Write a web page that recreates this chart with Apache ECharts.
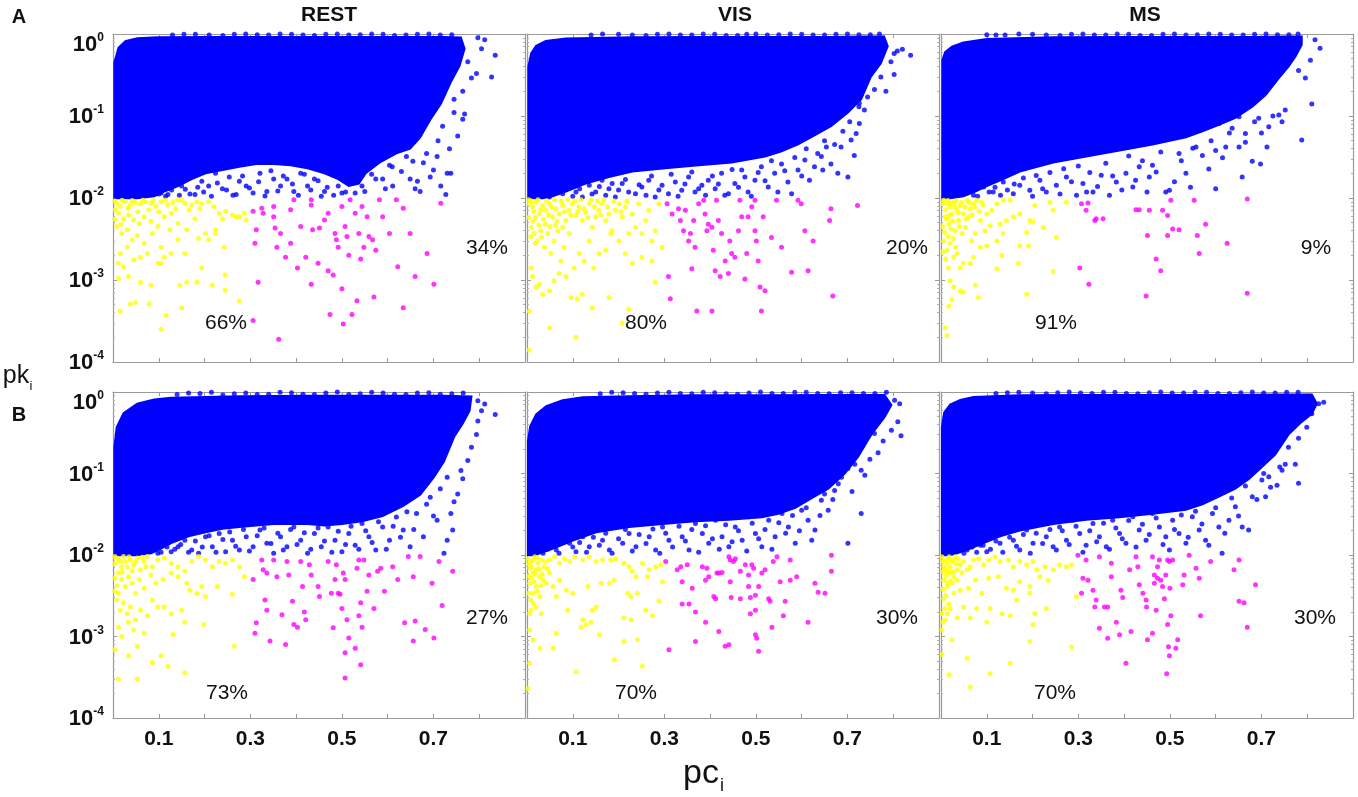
<!DOCTYPE html>
<html>
<head>
<meta charset="utf-8">
<title>pk-pc scatter</title>
<script src="https://cdn.jsdelivr.net/npm/echarts@6/dist/echarts.min.js"></script>
<style>
  html, body { margin: 0; padding: 0; background: #fff; }
  #main { width: 1358px; height: 797px; }
</style>
</head>
<body>
<div id="main"></div>
<script>
// panel names and the percentages written in each panel
var columnTitles = ['REST', 'VIS', 'MS']
var rowLetters = ['A', 'B']
var pctLow = ['66%', '80%', '91%', '73%', '70%', '70%']
var pctHigh = ['34%', '20%', '9%', '27%', '30%', '30%']
var xTickLabels = ['0.1', '0.3', '0.5', '0.7']

// dense blue cloud outline, [pc, pk]
var restA_area = [[0.003,0.0099],[0.003,0.45],[0.012,0.68],[0.027,0.82],[0.053,0.89],[0.098,0.91],[0.202,0.92],[0.351,0.92],[0.5,0.92],[0.649,0.92],[0.723,0.92],[0.76,0.91],[0.768,0.66],[0.757,0.41],[0.738,0.26],[0.716,0.14],[0.693,0.09],[0.671,0.055],[0.649,0.04],[0.619,0.035],[0.582,0.027],[0.552,0.02],[0.537,0.015],[0.515,0.014],[0.492,0.017],[0.462,0.02],[0.425,0.023],[0.388,0.025],[0.351,0.026],[0.313,0.026],[0.276,0.024],[0.239,0.022],[0.202,0.02],[0.172,0.017],[0.142,0.014],[0.112,0.012],[0.09,0.0105],[0.053,0.0099]]
var visA_area = [[0.003,0.0099],[0.003,0.4],[0.009,0.58],[0.02,0.72],[0.041,0.82],[0.085,0.88],[0.23,0.91],[0.375,0.92],[0.52,0.92],[0.664,0.92],[0.737,0.93],[0.78,0.93],[0.788,0.71],[0.773,0.44],[0.751,0.3],[0.73,0.16],[0.701,0.11],[0.664,0.075],[0.628,0.058],[0.592,0.045],[0.556,0.037],[0.52,0.032],[0.447,0.027],[0.375,0.025],[0.302,0.023],[0.23,0.021],[0.179,0.018],[0.128,0.015],[0.085,0.012],[0.056,0.0105],[0.034,0.0099]]
var msA_area = [[0.003,0.0099],[0.003,0.48],[0.009,0.6],[0.024,0.7],[0.049,0.79],[0.1,0.87],[0.245,0.91],[0.39,0.92],[0.535,0.92],[0.68,0.92],[0.752,0.93],[0.788,0.93],[0.788,0.74],[0.774,0.53],[0.759,0.4],[0.738,0.29],[0.709,0.18],[0.68,0.13],[0.643,0.095],[0.607,0.078],[0.571,0.065],[0.535,0.055],[0.462,0.045],[0.39,0.038],[0.317,0.032],[0.245,0.027],[0.172,0.021],[0.136,0.017],[0.1,0.014],[0.075,0.012],[0.049,0.0105],[0.02,0.0099]]
var restB_area = [[0.003,0.0099],[0.003,0.21],[0.008,0.37],[0.023,0.55],[0.053,0.72],[0.09,0.81],[0.127,0.85],[0.276,0.89],[0.425,0.9],[0.574,0.9],[0.723,0.9],[0.783,0.88],[0.779,0.59],[0.764,0.41],[0.745,0.28],[0.723,0.14],[0.701,0.09],[0.671,0.055],[0.634,0.04],[0.589,0.03],[0.544,0.026],[0.5,0.024],[0.462,0.023],[0.425,0.024],[0.388,0.024],[0.351,0.024],[0.313,0.023],[0.276,0.022],[0.239,0.021],[0.202,0.019],[0.165,0.017],[0.127,0.014],[0.105,0.012],[0.083,0.0105],[0.053,0.0099]]
var visB_area = [[0.002,0.0099],[0.002,0.25],[0.007,0.38],[0.02,0.53],[0.042,0.67],[0.078,0.79],[0.122,0.86],[0.223,0.89],[0.368,0.91],[0.513,0.91],[0.658,0.92],[0.781,0.92],[0.796,0.69],[0.781,0.49],[0.752,0.3],[0.723,0.16],[0.694,0.1],[0.658,0.065],[0.622,0.05],[0.586,0.038],[0.549,0.032],[0.513,0.029],[0.441,0.027],[0.368,0.026],[0.296,0.024],[0.223,0.022],[0.151,0.019],[0.1,0.015],[0.057,0.012],[0.028,0.0105],[0.017,0.0099]]
var msB_area = [[0.002,0.0099],[0.002,0.37],[0.007,0.56],[0.02,0.7],[0.042,0.8],[0.071,0.87],[0.172,0.91],[0.317,0.92],[0.462,0.92],[0.607,0.92],[0.752,0.93],[0.81,0.93],[0.821,0.72],[0.81,0.54],[0.788,0.43],[0.759,0.3],[0.73,0.17],[0.701,0.12],[0.672,0.085],[0.643,0.065],[0.607,0.052],[0.571,0.042],[0.535,0.036],[0.462,0.032],[0.39,0.029],[0.317,0.027],[0.245,0.024],[0.172,0.02],[0.129,0.017],[0.093,0.014],[0.064,0.012],[0.035,0.0105],[0.02,0.0099]]

// loose blue points (lower fringe, right tail, top spikes), [pc, pk]
var restA_blue = [[0.797,0.9],[0.812,0.85],[0.805,0.66],[0.835,0.55],[0.827,0.3],[0.794,0.33],[0.775,0.46],[0.783,0.29],[0.764,0.2],[0.768,0.106],[0.764,0.091],[0.745,0.16],[0.753,0.057],[0.738,0.02],[0.73,0.02],[0.727,0.011],[0.716,0.014],[0.708,0.032],[0.693,0.018],[0.678,0.027],[0.671,0.012],[0.66,0.013],[0.649,0.017],[0.641,0.032],[0.626,0.039],[0.611,0.014],[0.604,0.025],[0.589,0.017],[0.574,0.017],[0.559,0.025],[0.544,0.014],[0.529,0.0115],[0.522,0.02],[0.5,0.0115],[0.492,0.014],[0.477,0.02],[0.462,0.012],[0.455,0.0105],[0.44,0.017],[0.425,0.014],[0.41,0.02],[0.395,0.012],[0.38,0.017],[0.366,0.014],[0.351,0.017],[0.336,0.012],[0.321,0.02],[0.306,0.0115],[0.291,0.014],[0.276,0.016],[0.269,0.011],[0.254,0.018],[0.239,0.013],[0.224,0.02],[0.209,0.014],[0.194,0.016],[0.179,0.011],[0.165,0.02],[0.15,0.014],[0.135,0.017],[0.12,0.011],[0.105,0.0115],[0.13,0.97],[0.155,0.99],[0.18,0.99],[0.21,0.97],[0.24,0.96],[0.265,0.99],[0.29,1.0],[0.315,0.98],[0.34,0.97],[0.365,1.0],[0.39,0.99],[0.415,0.97],[0.44,0.96],[0.465,0.99],[0.49,1.0],[0.515,0.97],[0.54,0.98],[0.565,1.0],[0.59,0.99],[0.615,0.96],[0.64,0.97],[0.665,0.99],[0.69,1.0],[0.715,0.97],[0.74,0.98]]
var visA_blue = [[0.02,0.0108],[0.034,0.0124],[0.049,0.0103],[0.063,0.0136],[0.078,0.0113],[0.092,0.0157],[0.107,0.0118],[0.121,0.0103],[0.136,0.0143],[0.15,0.0118],[0.164,0.0165],[0.179,0.013],[0.193,0.0103],[0.208,0.015],[0.222,0.0118],[0.237,0.0113],[0.251,0.0136],[0.266,0.0165],[0.28,0.0103],[0.295,0.0143],[0.309,0.0113],[0.324,0.0157],[0.338,0.0124],[0.353,0.018],[0.367,0.0118],[0.382,0.0143],[0.396,0.0165],[0.411,0.013],[0.425,0.02],[0.44,0.0113],[0.454,0.015],[0.469,0.022],[0.483,0.0118],[0.498,0.0165],[0.512,0.024],[0.527,0.0136],[0.541,0.02],[0.556,0.026],[0.57,0.0157],[0.578,0.0113],[0.592,0.022],[0.607,0.029],[0.617,0.0165],[0.628,0.024],[0.643,0.032],[0.646,0.022],[0.654,0.042],[0.664,0.026],[0.679,0.02],[0.686,0.042],[0.701,0.018],[0.708,0.051],[0.715,0.033],[0.719,0.061],[0.726,0.081],[0.737,0.118],[0.726,0.143],[0.744,0.17],[0.759,0.21],[0.784,0.2],[0.773,0.3],[0.802,0.32],[0.795,0.46],[0.809,0.62],[0.82,0.65],[0.838,0.55],[0.802,0.58],[0.14,0.97],[0.165,1.0],[0.2,0.99],[0.23,0.97],[0.26,0.96],[0.285,0.99],[0.31,1.0],[0.335,0.97],[0.36,0.97],[0.385,1.0],[0.41,0.99],[0.435,0.96],[0.46,0.96],[0.48,0.99],[0.5,1.0],[0.525,0.97],[0.55,0.98],[0.575,1.0],[0.6,0.99],[0.625,0.97],[0.65,0.97],[0.675,0.99],[0.7,1.0],[0.725,0.98],[0.75,0.98],[0.77,1.0]]
var msA_blue = [[0.028,0.0108],[0.049,0.0124],[0.071,0.0108],[0.093,0.0136],[0.114,0.0118],[0.136,0.0157],[0.158,0.0113],[0.172,0.0143],[0.194,0.0124],[0.216,0.0165],[0.23,0.0118],[0.252,0.0143],[0.274,0.018],[0.296,0.0108],[0.31,0.015],[0.332,0.0118],[0.35,0.019],[0.368,0.0108],[0.383,0.0157],[0.404,0.02],[0.419,0.0136],[0.433,0.024],[0.455,0.018],[0.462,0.025],[0.491,0.0118],[0.499,0.0124],[0.52,0.035],[0.535,0.02],[0.557,0.042],[0.571,0.033],[0.6,0.013],[0.6,0.038],[0.622,0.042],[0.651,0.042],[0.658,0.018],[0.68,0.028],[0.698,0.026],[0.712,0.042],[0.788,0.051],[0.81,0.14],[0.828,0.67],[0.817,0.85],[0.807,0.48],[0.781,0.36],[0.796,0.29],[0.752,0.118],[0.738,0.103],[0.716,0.074],[0.694,0.094],[0.651,0.098],[0.607,0.081],[0.636,0.071],[0.665,0.061],[0.1,0.98],[0.12,0.97],[0.14,0.97],[0.17,1.0],[0.2,0.99],[0.23,0.97],[0.26,0.96],[0.285,0.99],[0.31,1.0],[0.335,0.97],[0.36,0.97],[0.385,1.0],[0.41,0.99],[0.435,0.96],[0.46,0.96],[0.485,0.99],[0.51,1.0],[0.535,0.97],[0.56,0.98],[0.585,1.0],[0.61,0.99],[0.635,0.97],[0.66,0.97],[0.685,0.99],[0.71,1.0],[0.735,0.98],[0.76,0.98],[0.78,1.0]]
var restB_blue = [[0.016,0.0105],[0.031,0.0126],[0.045,0.011],[0.06,0.0139],[0.075,0.012],[0.098,0.0105],[0.112,0.0132],[0.127,0.011],[0.142,0.0126],[0.157,0.0152],[0.172,0.0115],[0.187,0.0105],[0.202,0.0167],[0.217,0.0126],[0.232,0.0184],[0.246,0.011],[0.261,0.0152],[0.276,0.0115],[0.291,0.0167],[0.306,0.0126],[0.321,0.0202],[0.336,0.0139],[0.351,0.0105],[0.366,0.0167],[0.38,0.0126],[0.395,0.0221],[0.41,0.0152],[0.425,0.0105],[0.44,0.0184],[0.455,0.0126],[0.47,0.0221],[0.485,0.0152],[0.5,0.011],[0.515,0.0184],[0.529,0.0132],[0.544,0.0243],[0.559,0.0167],[0.574,0.0115],[0.589,0.0221],[0.604,0.0152],[0.619,0.0293],[0.634,0.0202],[0.649,0.0126],[0.663,0.0322],[0.678,0.0167],[0.693,0.051],[0.708,0.0267],[0.723,0.0105],[0.73,0.0152],[0.742,0.0202],[0.738,0.0322],[0.753,0.056],[0.76,0.109],[0.764,0.0861],[0.775,0.144],[0.783,0.21],[0.794,0.3],[0.797,0.44],[0.805,0.59],[0.812,0.71],[0.835,0.53],[0.797,0.78],[0.14,0.93],[0.165,0.97],[0.19,0.96],[0.215,0.99],[0.24,0.92],[0.265,0.95],[0.29,0.97],[0.315,0.93],[0.34,0.94],[0.365,0.99],[0.39,0.98],[0.415,0.94],[0.44,0.93],[0.465,0.97],[0.49,1.0],[0.515,0.93],[0.54,0.95],[0.565,0.99],[0.59,0.97],[0.615,0.94],[0.64,0.93],[0.665,0.97],[0.69,0.98],[0.715,0.94],[0.74,0.95],[0.765,0.97]]
var visB_blue = [[0.013,0.011],[0.035,0.0126],[0.049,0.0152],[0.064,0.0115],[0.078,0.0184],[0.093,0.0139],[0.107,0.011],[0.122,0.0167],[0.136,0.0126],[0.151,0.0202],[0.165,0.0152],[0.18,0.0115],[0.194,0.0221],[0.209,0.0139],[0.223,0.0184],[0.238,0.0126],[0.252,0.0243],[0.267,0.0167],[0.281,0.0115],[0.296,0.0221],[0.31,0.0152],[0.325,0.0267],[0.339,0.0167],[0.354,0.0115],[0.368,0.0243],[0.383,0.0184],[0.397,0.0139],[0.412,0.0267],[0.426,0.0167],[0.441,0.0126],[0.455,0.0221],[0.47,0.0152],[0.484,0.0294],[0.499,0.0184],[0.513,0.0126],[0.528,0.0267],[0.542,0.0167],[0.557,0.0323],[0.571,0.0221],[0.586,0.0139],[0.6,0.0355],[0.614,0.0267],[0.629,0.0202],[0.643,0.047],[0.658,0.0355],[0.672,0.062],[0.687,0.09],[0.701,0.115],[0.716,0.13],[0.73,0.11],[0.738,0.095],[0.73,0.0323],[0.701,0.0139],[0.749,0.15],[0.767,0.18],[0.778,0.25],[0.796,0.34],[0.81,0.43],[0.817,0.29],[0.803,0.79],[0.814,0.72],[0.759,0.31],[0.622,0.0152],[0.16,0.95],[0.185,0.99],[0.21,0.98],[0.235,0.96],[0.26,0.94],[0.285,0.97],[0.31,0.99],[0.335,0.96],[0.36,0.95],[0.385,0.99],[0.41,0.98],[0.435,0.95],[0.46,0.94],[0.485,0.97],[0.51,1.0],[0.535,0.96],[0.56,0.96],[0.585,0.99],[0.61,0.99],[0.635,0.96],[0.66,0.95],[0.685,0.98],[0.71,0.98],[0.735,0.96],[0.76,0.96],[0.785,0.99]]
var msB_blue = [[0.013,0.011],[0.028,0.0126],[0.042,0.0152],[0.057,0.0115],[0.071,0.0167],[0.086,0.0132],[0.1,0.011],[0.114,0.0184],[0.129,0.0139],[0.143,0.0221],[0.158,0.0152],[0.172,0.0115],[0.187,0.0202],[0.201,0.0139],[0.216,0.0243],[0.23,0.0167],[0.245,0.0126],[0.259,0.0221],[0.274,0.0152],[0.288,0.0267],[0.303,0.0184],[0.317,0.0132],[0.332,0.0243],[0.346,0.0167],[0.361,0.0126],[0.375,0.0267],[0.39,0.0184],[0.404,0.0139],[0.419,0.0294],[0.433,0.0202],[0.448,0.0152],[0.462,0.0323],[0.477,0.0221],[0.491,0.0167],[0.499,0.0115],[0.506,0.0267],[0.52,0.0184],[0.535,0.0139],[0.549,0.0294],[0.564,0.0202],[0.578,0.0152],[0.593,0.0323],[0.607,0.0221],[0.614,0.0105],[0.629,0.0267],[0.643,0.039],[0.658,0.0221],[0.672,0.0202],[0.68,0.052],[0.701,0.083],[0.716,0.091],[0.734,0.072],[0.745,0.11],[0.752,0.13],[0.781,0.076],[0.759,0.21],[0.781,0.27],[0.799,0.37],[0.81,0.54],[0.825,0.72],[0.836,0.75],[0.774,0.13],[0.803,0.66],[0.709,0.052],[0.12,0.96],[0.145,0.98],[0.17,0.99],[0.2,0.97],[0.23,0.95],[0.255,0.98],[0.28,1.0],[0.305,0.97],[0.33,0.96],[0.355,0.99],[0.38,0.99],[0.405,0.96],[0.43,0.95],[0.455,0.98],[0.48,1.0],[0.505,0.97],[0.53,0.97],[0.555,0.99],[0.58,0.99],[0.605,0.96],[0.63,0.96],[0.655,0.98],[0.68,1.0],[0.705,0.97],[0.73,0.97],[0.755,0.99],[0.78,0.99]]

// extra blue points in the speckled band just above pk = 0.01
var restA_band = [[0.1,0.0112],[0.115,0.0105],[0.128,0.0125],[0.145,0.0108],[0.158,0.0128],[0.168,0.0112],[0.185,0.0135],[0.198,0.0118],[0.215,0.0105],[0.228,0.0152],[0.248,0.0125],[0.262,0.0108],[0.283,0.0185],[0.298,0.0132],[0.318,0.0158],[0.332,0.0106],[0.345,0.0215],[0.36,0.0122],[0.372,0.0185],[0.392,0.0148],[0.405,0.0108],[0.418,0.0195],[0.432,0.0125],[0.448,0.0162],[0.468,0.0135],[0.482,0.0108],[0.508,0.0118],[0.55,0.012],[0.565,0.0195],[0.595,0.013],[0.61,0.024],[0.63,0.021],[0.655,0.028],[0.665,0.016],[0.685,0.035],[0.7,0.022],[0.71,0.05],[0.72,0.075],[0.735,0.04],[0.745,0.11]]
var visA_band = [[0.1,0.0105],[0.115,0.013],[0.142,0.0112],[0.158,0.0138],[0.172,0.0108],[0.186,0.015],[0.2,0.0125],[0.215,0.0168],[0.245,0.0145],[0.26,0.0108],[0.272,0.0185],[0.288,0.0125],[0.315,0.0195],[0.33,0.0105],[0.345,0.0148],[0.36,0.0208],[0.375,0.013],[0.39,0.0108],[0.405,0.0185],[0.418,0.0148],[0.432,0.0108],[0.448,0.0222],[0.462,0.0135],[0.476,0.018],[0.49,0.0105],[0.505,0.0205],[0.52,0.0162],[0.534,0.0285],[0.548,0.0118],[0.563,0.0215],[0.585,0.0312],[0.6,0.0185],[0.61,0.04],[0.635,0.035],[0.65,0.05],[0.672,0.045],[0.69,0.065],[0.705,0.085],[0.725,0.13]]
var msA_band = [[0.08,0.0105],[0.105,0.0118],[0.118,0.0135],[0.13,0.0108],[0.145,0.0125],[0.16,0.0148],[0.18,0.0175],[0.2,0.0105],[0.208,0.0188],[0.222,0.013],[0.238,0.0205],[0.26,0.0112],[0.268,0.0228],[0.285,0.0158],[0.3,0.0245],[0.318,0.0118],[0.325,0.0205],[0.342,0.0138],[0.36,0.0265],[0.375,0.0185],[0.395,0.0125],[0.41,0.0325],[0.425,0.0165],[0.44,0.0285],[0.45,0.0118],[0.47,0.0208],[0.48,0.0365],[0.51,0.0158],[0.525,0.0285],[0.545,0.0135],[0.55,0.0405],[0.585,0.0225],[0.59,0.05],[0.615,0.031],[0.63,0.062],[0.665,0.048],[0.685,0.085],[0.7,0.062],[0.725,0.1],[0.745,0.085]]
var restB_band = [[0.085,0.0112],[0.105,0.0108],[0.118,0.0125],[0.135,0.0118],[0.148,0.0135],[0.165,0.0108],[0.18,0.0148],[0.195,0.0125],[0.21,0.0172],[0.225,0.0108],[0.24,0.0155],[0.255,0.0192],[0.268,0.0128],[0.285,0.0205],[0.298,0.0112],[0.315,0.0172],[0.33,0.0215],[0.345,0.0138],[0.36,0.0185],[0.372,0.0115],[0.388,0.0205],[0.402,0.0135],[0.418,0.0188],[0.432,0.0118],[0.448,0.0215],[0.462,0.0148],[0.478,0.0108],[0.492,0.0195],[0.508,0.0135],[0.52,0.0225],[0.537,0.0118],[0.552,0.0198],[0.566,0.0142],[0.58,0.0255],[0.597,0.0118],[0.612,0.0225],[0.628,0.0165],[0.642,0.034],[0.657,0.0205],[0.685,0.042],[0.7,0.03],[0.715,0.065],[0.73,0.09],[0.745,0.045]]
var visB_band = [[0.035,0.0105],[0.045,0.0118],[0.06,0.0128],[0.07,0.0105],[0.085,0.0145],[0.1,0.0125],[0.115,0.0142],[0.13,0.0108],[0.145,0.0165],[0.158,0.0132],[0.172,0.0185],[0.186,0.0105],[0.2,0.0158],[0.215,0.0205],[0.23,0.0112],[0.245,0.0178],[0.26,0.0138],[0.275,0.0208],[0.29,0.0105],[0.303,0.0185],[0.318,0.0125],[0.332,0.0225],[0.346,0.0148],[0.36,0.0205],[0.375,0.0108],[0.39,0.0228],[0.405,0.0158],[0.42,0.0118],[0.434,0.0235],[0.448,0.0145],[0.462,0.0198],[0.48,0.0112],[0.492,0.0245],[0.506,0.0158],[0.52,0.0205],[0.535,0.0118],[0.55,0.0248],[0.565,0.0185],[0.58,0.0305],[0.595,0.0198],[0.61,0.038],[0.64,0.0305],[0.65,0.056],[0.668,0.048],[0.68,0.075],[0.71,0.06]]
var msB_band = [[0.035,0.0112],[0.05,0.0105],[0.068,0.0125],[0.078,0.0108],[0.092,0.0132],[0.108,0.0118],[0.12,0.0148],[0.135,0.0108],[0.15,0.0165],[0.165,0.0128],[0.18,0.0178],[0.195,0.0105],[0.208,0.0185],[0.222,0.0138],[0.238,0.0205],[0.252,0.0115],[0.265,0.0198],[0.28,0.0135],[0.295,0.0225],[0.31,0.0108],[0.325,0.0198],[0.34,0.0145],[0.355,0.0245],[0.368,0.0118],[0.382,0.0215],[0.396,0.0158],[0.41,0.0265],[0.426,0.0125],[0.44,0.0238],[0.455,0.0178],[0.47,0.0285],[0.485,0.0135],[0.51,0.0205],[0.525,0.031],[0.54,0.0165],[0.556,0.0345],[0.57,0.024],[0.585,0.0132],[0.6,0.038],[0.62,0.0185],[0.635,0.05],[0.65,0.03],[0.665,0.07],[0.69,0.048],[0.705,0.1],[0.72,0.068],[0.74,0.12]]

// yellow points (pk < 0.01, low pc), [pc, pk]
var restA_yellow = [[0.008,0.0086],[0.016,0.0079],[0.027,0.009],[0.038,0.0082],[0.049,0.0088],[0.06,0.0085],[0.071,0.009],[0.083,0.0086],[0.094,0.0079],[0.105,0.009],[0.12,0.0082],[0.131,0.0088],[0.142,0.0095],[0.157,0.0086],[0.172,0.0082],[0.183,0.009],[0.194,0.0085],[0.209,0.009],[0.22,0.0079],[0.232,0.0065],[0.246,0.0069],[0.261,0.0062],[0.276,0.0059],[0.291,0.0054],[0.012,0.0065],[0.023,0.0056],[0.034,0.0062],[0.045,0.0054],[0.057,0.0049],[0.068,0.0059],[0.083,0.0052],[0.098,0.0045],[0.112,0.0059],[0.127,0.0065],[0.142,0.0049],[0.161,0.0041],[0.179,0.0056],[0.202,0.0037],[0.224,0.0041],[0.239,0.0056],[0.269,0.0059],[0.287,0.0065],[0.008,0.0045],[0.019,0.0037],[0.031,0.0041],[0.042,0.0031],[0.053,0.0035],[0.068,0.0028],[0.086,0.0037],[0.105,0.0025],[0.124,0.0041],[0.142,0.0031],[0.016,0.0021],[0.031,0.0025],[0.045,0.00175],[0.06,0.0019],[0.075,0.0021],[0.098,0.0016],[0.112,0.0019],[0.127,0.0021],[0.157,0.0021],[0.187,0.0032],[0.209,0.0031],[0.224,0.0037],[0.243,0.0025],[0.012,0.0016],[0.023,0.00145],[0.034,0.0011],[0.06,0.00094],[0.083,0.00086],[0.105,0.0016],[0.146,0.00086],[0.161,0.00094],[0.183,0.00094],[0.194,0.0014],[0.217,0.00086],[0.245,0.00115],[0.245,0.00075],[0.276,0.00056],[0.012,0.00104],[0.016,0.00042],[0.038,0.00051],[0.049,0.00053],[0.079,0.00051],[0.105,0.00025],[0.116,0.00037],[0.15,0.00046],[0.004,0.0092],[0.005,0.0072],[0.02,0.0094],[0.033,0.0075],[0.042,0.0093],[0.054,0.0068],[0.065,0.0094],[0.078,0.0072],[0.088,0.0093],[0.1,0.0068],[0.115,0.0094],[0.137,0.0074],[0.15,0.0094],[0.166,0.0072],[0.19,0.0074],[0.004,0.0055],[0.018,0.0048]]
var visA_yellow = [[0.005,0.0085],[0.012,0.0078],[0.02,0.0089],[0.027,0.0064],[0.034,0.0081],[0.041,0.0071],[0.049,0.0085],[0.056,0.0059],[0.063,0.0074],[0.07,0.0064],[0.078,0.0081],[0.085,0.0053],[0.092,0.0071],[0.099,0.0085],[0.107,0.0061],[0.114,0.0078],[0.121,0.0053],[0.128,0.0067],[0.136,0.0085],[0.143,0.0044],[0.15,0.0059],[0.157,0.0071],[0.164,0.0085],[0.172,0.0053],[0.179,0.0064],[0.186,0.004],[0.193,0.0071],[0.201,0.0085],[0.208,0.0059],[0.215,0.0078],[0.222,0.0037],[0.23,0.0064],[0.237,0.0044],[0.244,0.0085],[0.251,0.0037],[0.259,0.0053],[0.266,0.0071],[0.273,0.003],[0.28,0.004],[0.288,0.0085],[0.295,0.0025],[0.009,0.0044],[0.016,0.0037],[0.023,0.003],[0.03,0.004],[0.038,0.0025],[0.045,0.0037],[0.052,0.0021],[0.059,0.003],[0.067,0.004],[0.074,0.0017],[0.081,0.0025],[0.092,0.0037],[0.103,0.0014],[0.114,0.0021],[0.125,0.0017],[0.136,0.003],[0.146,0.0014],[0.157,0.0021],[0.172,0.0023],[0.183,0.0037],[0.201,0.003],[0.215,0.0021],[0.23,0.0016],[0.251,0.0019],[0.273,0.0017],[0.28,0.00094],[0.009,0.0014],[0.012,0.0011],[0.02,0.00082],[0.027,0.00089],[0.034,0.00067],[0.049,0.00074],[0.059,0.00098],[0.07,0.0012],[0.085,0.0011],[0.096,0.00061],[0.11,0.00059],[0.121,0.00067],[0.143,0.00046],[0.179,0.00061],[0.222,0.00044],[0.208,0.0003],[0.005,0.00042],[0.049,0.00026],[0.107,0.0002],[0.005,0.00014],[0.004,0.0095],[0.01,0.0092],[0.015,0.0068],[0.018,0.0058],[0.024,0.0095],[0.03,0.0072],[0.036,0.0055],[0.043,0.0092],[0.047,0.0062],[0.053,0.0078],[0.06,0.0095],[0.066,0.0052],[0.075,0.0092],[0.082,0.0068],[0.089,0.0095],[0.096,0.0062],[0.104,0.0092],[0.111,0.0068],[0.118,0.0095],[0.125,0.0074],[0.133,0.0058],[0.14,0.0095],[0.147,0.0078],[0.154,0.0092],[0.161,0.0062],[0.168,0.0095],[0.176,0.0078],[0.19,0.0092],[0.205,0.0068],[0.218,0.0092],[0.004,0.0058],[0.008,0.0034],[0.013,0.0052],[0.018,0.0028],[0.026,0.0047],[0.032,0.0033],[0.04,0.0048],[0.05,0.0045],[0.062,0.0047],[0.078,0.0044]]
var msA_yellow = [[0.006,0.0094],[0.013,0.0085],[0.02,0.0078],[0.028,0.0089],[0.035,0.0071],[0.042,0.0081],[0.049,0.0064],[0.057,0.0094],[0.064,0.0074],[0.071,0.0085],[0.078,0.0094],[0.089,0.0089],[0.1,0.0064],[0.111,0.0071],[0.122,0.0085],[0.136,0.0094],[0.151,0.0094],[0.009,0.0059],[0.017,0.0048],[0.024,0.0064],[0.031,0.004],[0.038,0.0053],[0.046,0.0037],[0.053,0.0044],[0.06,0.0059],[0.067,0.003],[0.075,0.0037],[0.086,0.0053],[0.096,0.004],[0.107,0.0046],[0.129,0.0048],[0.143,0.0053],[0.158,0.0059],[0.172,0.0064],[0.194,0.0053],[0.205,0.0081],[0.238,0.0089],[0.245,0.0071],[0.274,0.0089],[0.006,0.003],[0.013,0.0023],[0.02,0.0028],[0.028,0.0019],[0.035,0.0021],[0.042,0.0014],[0.049,0.0016],[0.064,0.0016],[0.071,0.0019],[0.086,0.0025],[0.1,0.0026],[0.133,0.002],[0.122,0.00137],[0.169,0.0016],[0.172,0.0026],[0.191,0.0026],[0.187,0.0038],[0.201,0.0051],[0.223,0.0044],[0.252,0.0033],[0.245,0.00127],[0.02,0.00098],[0.028,0.00082],[0.042,0.00074],[0.049,0.00071],[0.024,0.00058],[0.017,0.00048],[0.009,0.00026],[0.013,0.00021],[0.082,0.00061],[0.075,0.00086],[0.187,0.00067],[0.122,0.003],[0.136,0.0037],[0.004,0.0085],[0.01,0.0072],[0.015,0.0093],[0.018,0.0062],[0.022,0.0086],[0.025,0.0052],[0.03,0.0078],[0.033,0.0092],[0.038,0.0066],[0.045,0.0088],[0.052,0.0078],[0.055,0.0055],[0.062,0.0088],[0.068,0.0062],[0.074,0.0078],[0.083,0.0069],[0.092,0.0082],[0.004,0.0045],[0.008,0.0038],[0.012,0.0055],[0.016,0.0034],[0.022,0.0042],[0.027,0.0032],[0.04,0.0045],[0.004,0.0022],[0.01,0.0018],[0.016,0.0014],[0.032,0.0025]]
var restB_yellow = [[0.008,0.0092],[0.016,0.0083],[0.023,0.0096],[0.031,0.0072],[0.038,0.0087],[0.045,0.0076],[0.053,0.0092],[0.06,0.0066],[0.068,0.0083],[0.075,0.0096],[0.086,0.0072],[0.098,0.0087],[0.112,0.0092],[0.127,0.0079],[0.142,0.0072],[0.157,0.0063],[0.172,0.0083],[0.187,0.0096],[0.202,0.0087],[0.217,0.0072],[0.232,0.0083],[0.246,0.0079],[0.261,0.0087],[0.276,0.0072],[0.287,0.0054],[0.012,0.006],[0.019,0.005],[0.027,0.0041],[0.034,0.0054],[0.042,0.0045],[0.049,0.0034],[0.057,0.005],[0.068,0.0039],[0.083,0.0057],[0.094,0.0045],[0.109,0.005],[0.127,0.006],[0.142,0.0054],[0.161,0.0045],[0.168,0.0037],[0.183,0.0034],[0.194,0.0041],[0.202,0.0031],[0.228,0.0041],[0.261,0.0033],[0.008,0.0028],[0.016,0.0021],[0.023,0.0026],[0.031,0.0019],[0.038,0.0023],[0.049,0.0016],[0.06,0.0021],[0.075,0.0018],[0.086,0.0028],[0.098,0.0023],[0.112,0.0023],[0.127,0.0019],[0.15,0.0021],[0.012,0.0013],[0.019,0.001],[0.034,0.0015],[0.045,0.0012],[0.053,0.00076],[0.068,0.0011],[0.086,0.00048],[0.105,0.00058],[0.131,0.00106],[0.157,0.0015],[0.198,0.0014],[0.265,0.00076],[0.012,0.0003],[0.034,0.00058],[0.053,0.0003],[0.12,0.00043],[0.157,0.00036],[0.004,0.00069],[0.004,0.0096],[0.004,0.0078],[0.012,0.0088],[0.019,0.0072],[0.027,0.0084],[0.035,0.0095],[0.042,0.0064],[0.05,0.0082],[0.064,0.0094],[0.072,0.0072],[0.004,0.0052],[0.009,0.0042],[0.02,0.0062],[0.004,0.0036],[0.012,0.0034]]
var visB_yellow = [[0.002,0.009],[0.009,0.0083],[0.017,0.0095],[0.024,0.0079],[0.031,0.0087],[0.038,0.0072],[0.006,0.0069],[0.013,0.006],[0.02,0.0066],[0.028,0.0054],[0.035,0.0049],[0.049,0.0087],[0.06,0.0095],[0.071,0.0079],[0.082,0.009],[0.093,0.0083],[0.104,0.0095],[0.122,0.0087],[0.136,0.0095],[0.151,0.0083],[0.165,0.0087],[0.183,0.0087],[0.194,0.009],[0.212,0.0079],[0.223,0.0072],[0.23,0.0063],[0.238,0.0054],[0.252,0.0079],[0.267,0.0066],[0.281,0.0072],[0.292,0.0076],[0.006,0.0045],[0.013,0.0034],[0.02,0.0041],[0.028,0.0031],[0.006,0.0019],[0.009,0.0021],[0.02,0.0023],[0.031,0.0019],[0.042,0.0045],[0.049,0.006],[0.057,0.0041],[0.064,0.0031],[0.071,0.0049],[0.086,0.0037],[0.089,0.0021],[0.1,0.0034],[0.122,0.0016],[0.133,0.0041],[0.143,0.0021],[0.151,0.0023],[0.162,0.0045],[0.18,0.0045],[0.191,0.0049],[0.212,0.0017],[0.22,0.0034],[0.227,0.0016],[0.227,0.0031],[0.241,0.0034],[0.259,0.0021],[0.274,0.0018],[0.288,0.0027],[0.296,0.0047],[0.263,0.0054],[0.006,0.0012],[0.013,0.00091],[0.028,0.00072],[0.006,0.00047],[0.002,0.00023],[0.057,0.00072],[0.064,0.0011],[0.107,0.00037],[0.118,0.0013],[0.129,0.0014],[0.14,0.0015],[0.158,0.00105],[0.191,0.00052],[0.212,0.00087],[0.241,0.00091],[0.252,0.00043],[0.004,0.0078],[0.01,0.0072],[0.014,0.0088],[0.018,0.0058],[0.022,0.0092],[0.026,0.0068],[0.033,0.0058],[0.04,0.0083],[0.045,0.0068],[0.004,0.0055],[0.01,0.0052],[0.016,0.0047],[0.022,0.0036],[0.004,0.0034],[0.008,0.0028],[0.014,0.0025],[0.03,0.0042]]
var msB_yellow = [[0.002,0.0095],[0.009,0.0087],[0.017,0.009],[0.024,0.0083],[0.031,0.0095],[0.006,0.0072],[0.013,0.0063],[0.02,0.0072],[0.028,0.0054],[0.035,0.0066],[0.042,0.0076],[0.049,0.0083],[0.006,0.0049],[0.013,0.0041],[0.024,0.0045],[0.035,0.0049],[0.046,0.006],[0.057,0.0066],[0.064,0.0072],[0.071,0.0087],[0.082,0.009],[0.093,0.0076],[0.104,0.0087],[0.118,0.0095],[0.129,0.0083],[0.147,0.0087],[0.158,0.0072],[0.172,0.0083],[0.187,0.0076],[0.201,0.0083],[0.209,0.0066],[0.216,0.0054],[0.227,0.0072],[0.234,0.0049],[0.245,0.0066],[0.259,0.0076],[0.274,0.0072],[0.285,0.0076],[0.296,0.0031],[0.006,0.0029],[0.017,0.0025],[0.028,0.0034],[0.042,0.0037],[0.06,0.0039],[0.075,0.0049],[0.089,0.0034],[0.104,0.0052],[0.125,0.0054],[0.143,0.0039],[0.158,0.0037],[0.172,0.0047],[0.194,0.0041],[0.002,0.0019],[0.009,0.0016],[0.02,0.0022],[0.035,0.0017],[0.049,0.0023],[0.064,0.0017],[0.078,0.0022],[0.1,0.0015],[0.107,0.0022],[0.133,0.0019],[0.151,0.0018],[0.165,0.0028],[0.194,0.0034],[0.205,0.0019],[0.23,0.0022],[0.002,0.0012],[0.024,0.00091],[0.057,0.00054],[0.002,0.0006],[0.017,0.00034],[0.064,0.00024],[0.107,0.00035],[0.151,0.00047],[0.194,0.00087],[0.201,0.0014],[0.285,0.00075],[0.004,0.0082],[0.009,0.0068],[0.014,0.0078],[0.018,0.0095],[0.022,0.0062],[0.027,0.0088],[0.033,0.0078],[0.038,0.009],[0.004,0.0062],[0.01,0.0055],[0.016,0.0058],[0.02,0.0048],[0.027,0.0062],[0.004,0.0038],[0.01,0.0032],[0.014,0.0045],[0.008,0.0022],[0.014,0.0019],[0.004,0.0015]]

// magenta points (pk < 0.01, high pc), [pc, pk]
var restA_magenta = [[0.306,0.0069],[0.313,0.0041],[0.31,0.0028],[0.317,0.00094],[0.328,0.0065],[0.325,0.0075],[0.351,0.0059],[0.354,0.0043],[0.358,0.0025],[0.351,0.0079],[0.366,0.0037],[0.377,0.0019],[0.388,0.0072],[0.388,0.0028],[0.395,0.0095],[0.403,0.0014],[0.41,0.0045],[0.421,0.0019],[0.433,0.0095],[0.433,0.0082],[0.433,0.00089],[0.436,0.0041],[0.448,0.0016],[0.451,0.0043],[0.462,0.0054],[0.47,0.0065],[0.47,0.0013],[0.474,0.00038],[0.481,0.00115],[0.485,0.0037],[0.488,0.0031],[0.492,0.0025],[0.5,0.0079],[0.5,0.00078],[0.503,0.00029],[0.507,0.0045],[0.511,0.0034],[0.515,0.002],[0.518,0.0095],[0.522,0.00038],[0.529,0.0065],[0.533,0.00056],[0.537,0.0037],[0.541,0.0018],[0.544,0.0079],[0.548,0.0025],[0.555,0.0059],[0.559,0.0034],[0.567,0.0031],[0.57,0.00062],[0.574,0.0023],[0.582,0.0095],[0.589,0.0059],[0.604,0.0037],[0.619,0.0095],[0.622,0.00145],[0.634,0.0075],[0.634,0.00046],[0.649,0.0037],[0.66,0.0011],[0.686,0.0021],[0.701,0.00089],[0.716,0.0086],[0.306,0.00032],[0.362,0.00019]]
var visA_magenta = [[0.306,0.0085],[0.317,0.0064],[0.331,0.0074],[0.335,0.0053],[0.342,0.004],[0.346,0.0071],[0.353,0.003],[0.357,0.0037],[0.36,0.00137],[0.364,0.0053],[0.367,0.0025],[0.375,0.0085],[0.386,0.0094],[0.389,0.0064],[0.393,0.004],[0.396,0.0048],[0.404,0.0044],[0.407,0.0023],[0.411,0.0013],[0.414,0.0094],[0.418,0.0053],[0.422,0.0011],[0.425,0.0037],[0.433,0.0017],[0.44,0.0012],[0.443,0.003],[0.447,0.0021],[0.454,0.0019],[0.462,0.004],[0.465,0.0094],[0.469,0.0059],[0.476,0.00103],[0.48,0.0021],[0.483,0.0059],[0.491,0.0078],[0.498,0.0094],[0.498,0.004],[0.501,0.003],[0.505,0.0017],[0.509,0.00082],[0.512,0.00042],[0.516,0.0059],[0.52,0.00074],[0.534,0.0033],[0.545,0.0094],[0.556,0.0025],[0.578,0.00124],[0.592,0.0094],[0.599,0.0085],[0.607,0.004],[0.614,0.0013],[0.625,0.003],[0.661,0.0053],[0.664,0.0074],[0.668,0.00064],[0.722,0.0081],[0.309,0.0011],[0.313,0.00059],[0.371,0.00042],[0.404,0.00042]]
var msA_magenta = [[0.307,0.0085],[0.317,0.0071],[0.321,0.0087],[0.336,0.0053],[0.339,0.0056],[0.354,0.0056],[0.303,0.0014],[0.323,0.00089],[0.426,0.0072],[0.433,0.0072],[0.455,0.0071],[0.451,0.0035],[0.47,0.0018],[0.48,0.0013],[0.448,0.00064],[0.484,0.0071],[0.495,0.0061],[0.495,0.0035],[0.502,0.0094],[0.506,0.0042],[0.52,0.0041],[0.553,0.0094],[0.56,0.0035],[0.564,0.0021],[0.578,0.0048],[0.625,0.0028],[0.669,0.0097],[0.669,0.00069]]
var restB_magenta = [[0.306,0.005],[0.313,0.00147],[0.31,0.0011],[0.325,0.0087],[0.328,0.0066],[0.336,0.006],[0.332,0.0028],[0.336,0.0021],[0.343,0.00088],[0.351,0.0087],[0.358,0.0054],[0.369,0.00185],[0.377,0.0008],[0.38,0.0083],[0.384,0.0057],[0.392,0.0027],[0.395,0.0014],[0.403,0.0013],[0.41,0.0083],[0.414,0.0041],[0.418,0.002],[0.421,0.0016],[0.429,0.0076],[0.433,0.0057],[0.448,0.0041],[0.451,0.0031],[0.47,0.0083],[0.477,0.0034],[0.481,0.00128],[0.485,0.005],[0.488,0.0076],[0.492,0.0034],[0.496,0.0033],[0.5,0.0022],[0.503,0.006],[0.507,0.005],[0.511,0.0016],[0.507,0.00063],[0.515,0.00096],[0.529,0.00072],[0.533,0.0069],[0.537,0.0087],[0.537,0.0018],[0.541,0.00045],[0.541,0.0026],[0.544,0.0013],[0.548,0.0087],[0.555,0.0036],[0.559,0.0057],[0.57,0.0022],[0.578,0.0063],[0.585,0.0069],[0.593,0.0036],[0.611,0.0072],[0.622,0.005],[0.637,0.00147],[0.645,0.0096],[0.656,0.0054],[0.656,0.00088],[0.66,0.00155],[0.671,0.0096],[0.682,0.00122],[0.697,0.0045],[0.701,0.00096],[0.712,0.0083],[0.719,0.0024],[0.742,0.0063],[0.507,0.00031]]
var visB_magenta = [[0.303,0.0083],[0.31,0.00069],[0.328,0.0066],[0.339,0.0047],[0.339,0.0025],[0.35,0.0076],[0.354,0.0025],[0.361,0.0039],[0.368,0.002],[0.368,0.00087],[0.383,0.0072],[0.39,0.0015],[0.393,0.0069],[0.39,0.0049],[0.397,0.0054],[0.408,0.0031],[0.415,0.006],[0.419,0.006],[0.419,0.00115],[0.426,0.0061],[0.433,0.00076],[0.441,0.00079],[0.441,0.0095],[0.444,0.0087],[0.446,0.003],[0.444,0.0047],[0.451,0.0083],[0.455,0.009],[0.466,0.0063],[0.466,0.0029],[0.477,0.0076],[0.484,0.0057],[0.484,0.0041],[0.488,0.003],[0.488,0.0019],[0.491,0.0076],[0.495,0.0069],[0.499,0.0021],[0.499,0.00105],[0.502,0.00095],[0.506,0.00066],[0.506,0.0041],[0.513,0.006],[0.52,0.0066],[0.528,0.0029],[0.531,0.0027],[0.535,0.0013],[0.538,0.0083],[0.546,0.0095],[0.553,0.0047],[0.56,0.0018],[0.564,0.0027],[0.575,0.0087],[0.575,0.0049],[0.589,0.0054],[0.614,0.0015],[0.629,0.0045],[0.636,0.0035],[0.651,0.0034],[0.665,0.0099],[0.665,0.0063],[0.499,0.0032],[0.412,0.0029],[0.336,0.0072]]
var msB_magenta = [[0.299,0.0099],[0.317,0.0087],[0.31,0.0052],[0.321,0.0049],[0.307,0.0034],[0.332,0.0037],[0.339,0.0028],[0.336,0.0023],[0.346,0.0095],[0.357,0.0023],[0.364,0.0023],[0.346,0.00126],[0.364,0.00095],[0.372,0.0079],[0.372,0.0054],[0.383,0.0015],[0.39,0.00105],[0.393,0.0037],[0.397,0.003],[0.404,0.00047],[0.412,0.0066],[0.415,0.00115],[0.426,0.0095],[0.43,0.0072],[0.433,0.0043],[0.441,0.0034],[0.448,0.0028],[0.449,0.0023],[0.451,0.00091],[0.462,0.0011],[0.462,0.0095],[0.466,0.0045],[0.47,0.0021],[0.473,0.0072],[0.473,0.0052],[0.477,0.0087],[0.48,0.0049],[0.484,0.0041],[0.488,0.0029],[0.491,0.0057],[0.495,0.0087],[0.495,0.0014],[0.497,0.00075],[0.499,0.0083],[0.5,0.0039],[0.502,0.0018],[0.499,0.00058],[0.493,0.00035],[0.506,0.0087],[0.513,0.00072],[0.517,0.00091],[0.528,0.0043],[0.531,0.0057],[0.542,0.0099],[0.557,0.0069],[0.564,0.0052],[0.567,0.0018],[0.589,0.0083],[0.64,0.0066],[0.651,0.0087],[0.651,0.0027],[0.662,0.0026],[0.669,0.0013],[0.687,0.0043],[0.466,0.0057]]

var BLUE = '#0000ff'
var YELLOW = '#ffff00'
var MAGENTA = '#ff00ff'
var AXIS_GREY = '#9a9a9a'
var FONT = '"Liberation Sans", Arial, sans-serif'

var panels = [
    [restA_area, restA_blue, restA_band, restA_yellow, restA_magenta],
    [visA_area, visA_blue, visA_band, visA_yellow, visA_magenta],
    [msA_area, msA_blue, msA_band, msA_yellow, msA_magenta],
    [restB_area, restB_blue, restB_band, restB_yellow, restB_magenta],
    [visB_area, visB_blue, visB_band, visB_yellow, visB_magenta],
    [msB_area, msB_blue, msB_band, msB_yellow, msB_magenta],
]

var gridLefts = [113, 527, 941]
var gridTops = [34, 392]
var gridHeights = [328, 326]
var gridWidth = 412

var grids = []
var xAxes = []
var yAxes = []
var series = []

var makeArea = function(points, axisIndex) {
    return {
        type: 'custom',
        xAxisIndex: axisIndex,
        yAxisIndex: axisIndex,
        silent: true,
        data: points,
        encode: { x: 0, y: 1 },
        renderItem: function(params, api) {
            // one closed shape, drawn once
            if (params.dataIndex !== 0) {
                return null
            }
            var pts = points.map(function(p) {
                return api.coord(p)
            })
            return {
                type: 'polygon',
                shape: { points: pts },
                style: { fill: BLUE, stroke: BLUE, lineWidth: 2 },
            }
        },
    }
}

var makeDots = function(points, color, axisIndex) {
    return {
        type: 'scatter',
        xAxisIndex: axisIndex,
        yAxisIndex: axisIndex,
        silent: true,
        symbol: 'circle',
        symbolSize: 5,
        data: points,
        itemStyle: { color: color },
    }
}

var yRich = {
    b: { fontSize: 22, fontWeight: 'bold', fontFamily: FONT, color: '#111', lineHeight: 24, verticalAlign: 'bottom' },
    s: { fontSize: 12, fontWeight: 'bold', fontFamily: FONT, color: '#111', lineHeight: 24, verticalAlign: 'top' },
    gap: { fontSize: 2, lineHeight: 20 },
}

for (var i = 0; i < panels.length; i++) {
    var row = Math.floor(i / 3)
    var col = i % 3
    grids.push({
        left: gridLefts[col],
        top: gridTops[row],
        width: gridWidth,
        height: gridHeights[row],
        containLabel: false,
    })
    var line = { show: true, onZero: false, lineStyle: { color: AXIS_GREY, width: 1.2 } }
    var tick = { show: true, inside: true, length: 4, lineStyle: { color: AXIS_GREY } }
    var minor = { show: true, splitNumber: 9, length: 2, lineStyle: { color: '#b0b0b0' } }
    xAxes.push({
        gridIndex: i,
        type: 'value',
        position: 'bottom',
        min: 0,
        max: 0.9,
        interval: 0.1,
        axisLine: line,
        axisTick: tick,
        splitLine: { show: false },
        axisLabel: {
            show: row === 1,
            margin: 11,
            color: '#111',
            fontFamily: FONT,
            fontWeight: 'bold',
            fontSize: 21,
            formatter: function(v) {
                var s = v.toFixed(1)
                return xTickLabels.indexOf(s) >= 0 ? s : ''
            },
        },
    })
    xAxes.push({
        gridIndex: i,
        type: 'value',
        position: 'top',
        min: 0,
        max: 0.9,
        interval: 0.1,
        axisLine: line,
        axisTick: tick,
        splitLine: { show: false },
        axisLabel: { show: false },
    })
    yAxes.push({
        gridIndex: i,
        type: 'log',
        logBase: 10,
        position: 'left',
        min: 0.0001,
        max: 1,
        axisLine: line,
        axisTick: tick,
        minorTick: minor,
        splitLine: { show: false },
        axisLabel: {
            show: col === 0,
            margin: 9,
            color: '#111',
            fontFamily: FONT,
            fontWeight: 'bold',
            formatter: function(v) {
                var e = Math.round(Math.log(v) / Math.LN10)
                var label = '{b|10}{s|' + e + '}'
                // the top label sits a little lower, inside the box
                return e === 0 ? '{gap| }\n' + label : label
            },
            rich: yRich,
        },
    })
    yAxes.push({
        gridIndex: i,
        type: 'log',
        logBase: 10,
        position: 'right',
        min: 0.0001,
        max: 1,
        axisLine: line,
        axisTick: tick,
        minorTick: minor,
        splitLine: { show: false },
        axisLabel: { show: false },
    })

    var ai = i * 2
    var p = panels[i]
    series.push(makeArea(p[0], ai))
    series.push(makeDots(p[1], BLUE, ai))
    series.push(makeDots(p[2], BLUE, ai))
    series.push(makeDots(p[3], YELLOW, ai))
    series.push(makeDots(p[4], MAGENTA, ai))
}

// text around and inside the panels
var graphics = []
var addText = function(x, y, text, size, weight) {
    graphics.push({
        type: 'text',
        x: x,
        y: y,
        z: 100,
        style: {
            text: text,
            font: weight + ' ' + size + 'px ' + FONT,
            fill: '#111',
            textAlign: 'center',
            textVerticalAlign: 'middle',
        },
    })
}
var titleX = [329, 735, 1145]
for (var c = 0; c < 3; c++) {
    addText(titleX[c], 15, columnTitles[c], 21, 'bold')
}
addText(19, 17, rowLetters[0], 20, 'bold')
addText(19, 415, rowLetters[1], 20, 'bold')

var highX = [487, 907, 1316, 487, 897, 1315]
var lowX = [226, 646, 1056, 227, 636, 1055]
var highY = [248, 618]
var lowY = [323, 693]
for (var k = 0; k < 6; k++) {
    var r = Math.floor(k / 3)
    addText(highX[k], highY[r], pctHigh[k], 21, 'normal')
    addText(lowX[k], lowY[r], pctLow[k], 21, 'normal')
}
// axis names with subscript i
addText(701, 774, 'pc', 34, 'normal')
addText(722, 786, 'i', 18, 'normal')
addText(16, 376, 'pk', 25, 'normal')
addText(31, 386, 'i', 13, 'normal')

var chart = echarts.init(document.getElementById('main'))
chart.setOption({
    animation: false,
    backgroundColor: '#ffffff',
    grid: grids,
    xAxis: xAxes,
    yAxis: yAxes,
    series: series,
    graphic: graphics,
})
</script>
</body>
</html>
